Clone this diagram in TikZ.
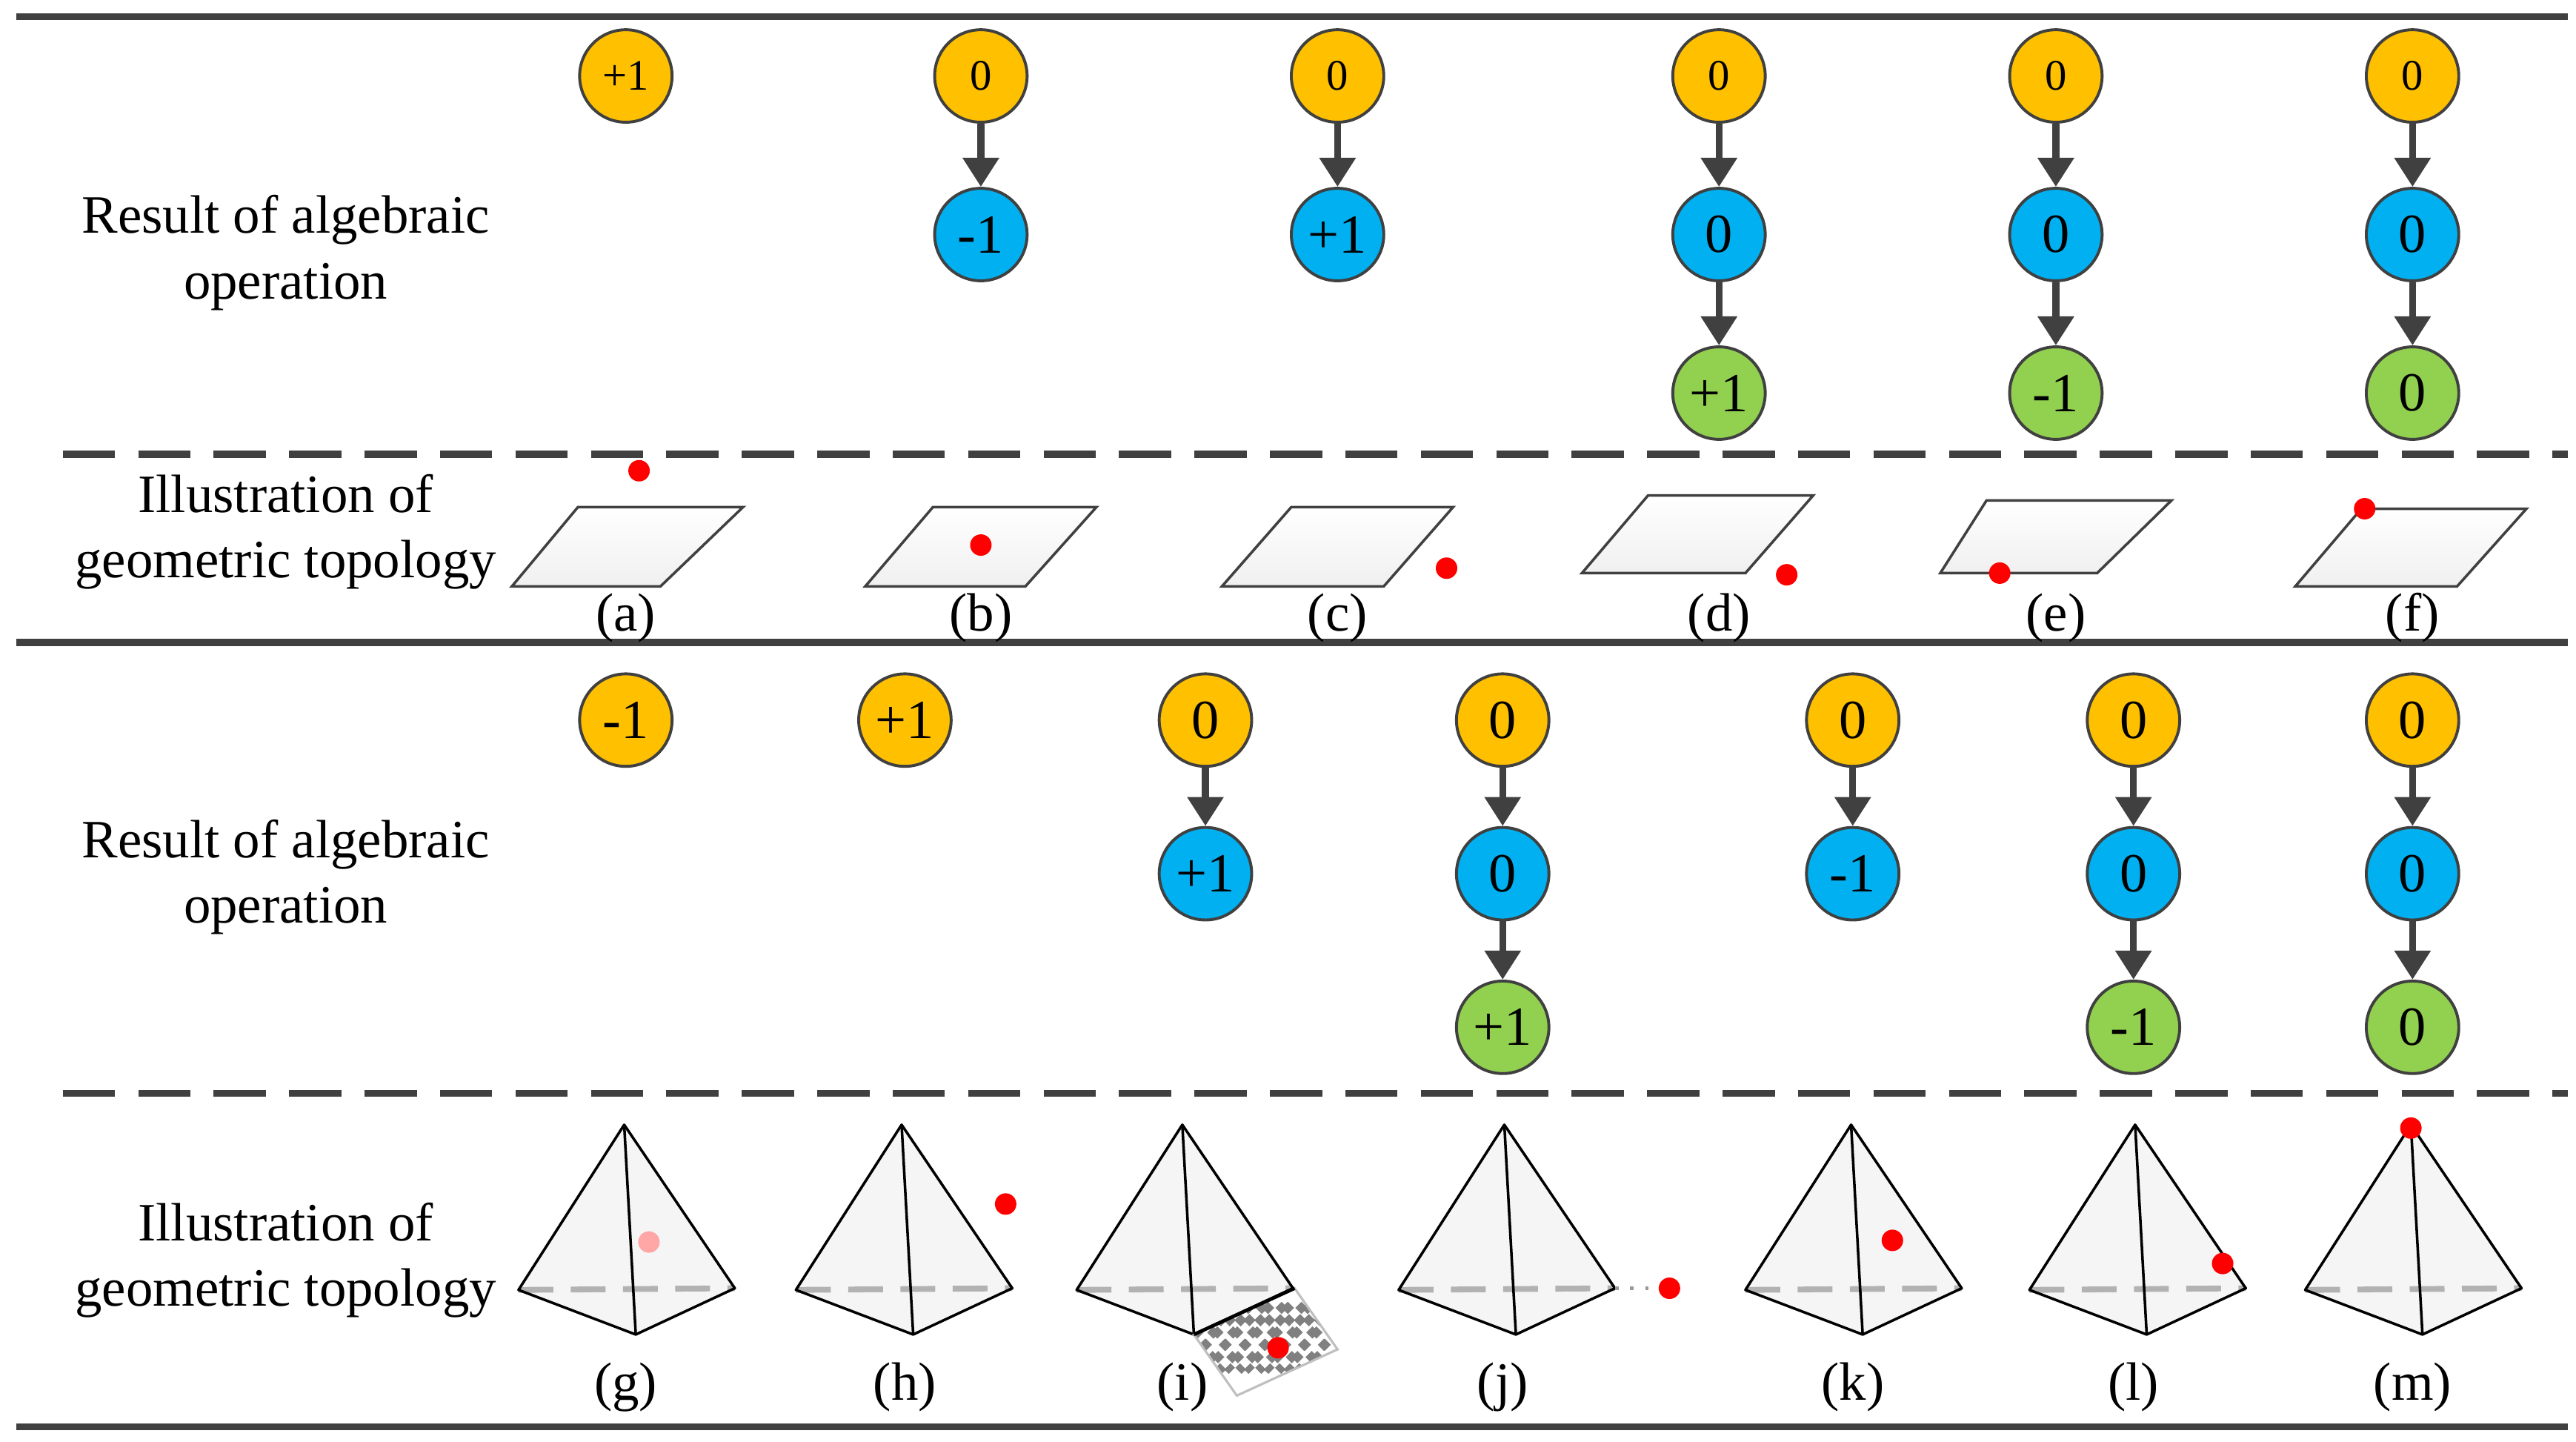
\documentclass[tikz,border=0pt]{standalone}
\usepackage{fontspec}
\setmainfont{Liberation Serif}
\usetikzlibrary{arrows.meta}
\definecolor{cy}{HTML}{FFC000}
\definecolor{cb}{HTML}{00B0F0}
\definecolor{cg}{HTML}{92D050}
\definecolor{dk}{HTML}{404040}
\tikzset{
 nd/.style={circle,draw=dk,line width=0.5pt,minimum size=0.56cm,inner sep=0pt,font=\fontsize{9.5pt}{10pt}\selectfont},
 ny/.style={nd,fill=cy}, nb/.style={nd,fill=cb}, ng/.style={nd,fill=cg},
 sm/.style={font=\fontsize{7.5pt}{8pt}\selectfont},
 ar/.style={draw=dk,line width=1.2pt,-{Triangle[length=5pt,width=6pt]}},
 rule/.style={draw=dk,line width=1.2pt},
 dsh/.style={draw=dk,line width=1.2pt,dash pattern=on 9pt off 4pt},
 lab/.style={align=center,font=\fontsize{9.3pt}{11.3pt}\selectfont},
 cp/.style={font=\fontsize{9.3pt}{10pt}\selectfont},
 pl/.style={draw=dk,line width=0.45pt,top color=white,bottom color=black!6},
 dot/.style={circle,fill=red,inner sep=0pt,minimum size=0.13cm},
 pyr/.style={draw=black,line width=0.45pt},
}
\begin{document}
\begin{tikzpicture}[x=0.1mm,y=-0.1mm]
\useasboundingbox (0,0) rectangle (1560,873);
\draw[rule] (10,10) -- (1555,10);
\draw[rule] (10,389) -- (1555,389);
\draw[rule] (10,864) -- (1555,864);
\draw[dsh] (38,275) -- (1555,275);
\draw[dsh] (38,662) -- (1555,662);
\node[lab] (t1) at (173,153) {Result of algebraic\\operation};
\node[lab] (t2) at (173,322) {Illustration of\\geometric topology};
\node[lab] (t3) at (173,531) {Result of algebraic\\operation};
\node[lab] (t4) at (173,763) {Illustration of\\geometric topology};
% top section
\node[ny,sm] (a1) at (379,46) {+1};
\node[ny,sm] (b1) at (594,46) {0}; \node[nb] (b2) at (594,142) {-1};
\node[ny,sm] (c1) at (810,46) {0}; \node[nb] (c2) at (810,142) {+1};
\node[ny,sm] (d1) at (1041,46) {0}; \node[nb] (d2) at (1041,142) {0}; \node[ng] (d3) at (1041,238) {+1};
\node[ny,sm] (e1) at (1245,46) {0}; \node[nb] (e2) at (1245,142) {0}; \node[ng] (e3) at (1245,238) {-1};
\node[ny,sm] (f1) at (1461,46) {0}; \node[nb] (f2) at (1461,142) {0}; \node[ng] (f3) at (1461,238) {0};
\foreach \u/\v in {b1/b2,c1/c2,d1/d2,d2/d3,e1/e2,e2/e3,f1/f2,f2/f3} \draw[ar] (\u) -- (\v);
% parallelograms
\draw[pl] (350,307) -- (450,307) -- (400,355) -- (310,355) -- cycle;
\draw[pl] (565,307) -- (664,307) -- (621,355) -- (524,355) -- cycle;
\draw[pl] (782,307) -- (880,307) -- (838,355) -- (740,355) -- cycle;
\draw[pl] (998,300) -- (1098,300) -- (1057,347) -- (958,347) -- cycle;
\draw[pl] (1203,303) -- (1315,303) -- (1270,347) -- (1175,347) -- cycle;
\draw[pl] (1430,308) -- (1530,308) -- (1488,355) -- (1390,355) -- cycle;
\node[dot] (pa) at (387,285) {}; \node[dot] (pb) at (594,330) {};
\node[dot] (pc) at (876,344) {}; \node[dot] (pd) at (1082,348) {};
\node[dot] (pe) at (1211,347) {}; \node[dot] (pf) at (1432,308) {};
\foreach \x/\l in {379/a,594/b,810/c,1041/d,1245/e,1461/f} \node[cp] (l\l) at (\x,374) {(\l)};
% bottom section
\node[ny] (g1) at (379,436) {-1};
\node[ny] (h1) at (548,436) {+1};
\node[ny] (i1) at (730,436) {0}; \node[nb] (i2) at (730,529) {+1};
\node[ny] (j1) at (910,436) {0}; \node[nb] (j2) at (910,529) {0}; \node[ng] (j3) at (910,622) {+1};
\node[ny] (k1) at (1122,436) {0}; \node[nb] (k2) at (1122,529) {-1};
\node[ny] (m1) at (1292,436) {0}; \node[nb] (m2) at (1292,529) {0}; \node[ng] (m3) at (1292,622) {-1};
\node[ny] (n1) at (1461,436) {0}; \node[nb] (n2) at (1461,529) {0}; \node[ng] (n3) at (1461,622) {0};
\foreach \u/\v in {i1/i2,j1/j2,j2/j3,k1/k2,m1/m2,m2/m3,n1/n2,n2/n3} \draw[ar] (\u) -- (\v);
% pyramids
\foreach \x in {378,546,716,911,1121,1293,1460}{
 \begin{scope}[xshift={(\x-378)*0.1mm}]
 \fill[black!4] (378,681) -- (314,781) -- (385,808) -- (445,780) -- cycle;
 \draw[black!30,line width=1pt,dash pattern=on 6pt off 3pt] (314,781) -- (445,780);
 \draw[pyr,line join=round] (378,681) -- (314,781) -- (385,808) -- (445,780) -- cycle;
 \draw[pyr] (378,681) -- (385,808);
 \end{scope}}
% (i) patterned face
\begin{scope}
\clip (723,808) -- (784,780) -- (810,817) -- (749,845) -- cycle;
\foreach \k in {-60,-48,...,60}{
 \draw[black!50,line width=1.5pt,dash pattern=on 1.5pt off 1.5pt] (766+\k,790) -- ++(40,40);
 \draw[black!50,line width=1.5pt,dash pattern=on 1.5pt off 1.5pt] (766+\k,790) -- ++(-40,40);}
\end{scope}
\draw[black!25,line width=0.4pt] (723,808) -- (784,780) -- (810,817) -- (749,845) -- cycle;
\draw[black,line width=0.6pt] (723,808) -- (784,780);
\node[circle,fill=red!35,inner sep=0pt,minimum size=0.13cm] (pg) at (393,752) {};
\node[dot] (ph) at (609,729) {};
\node[dot] (pi) at (774,816) {};
\coordinate (jr) at (978,780);
\node[dot] (pj) at (1011,780) {};
\draw[black!40,line width=0.6pt,dotted] (jr) -- (pj);
\node[dot] (pk) at (1146,751) {};
\node[dot] (pl) at (1346,765) {};
\node[dot] (pm) at (1460,683) {};
\foreach \x/\l in {379/g,548/h,716/i,910/j,1122/k,1292/l,1461/m} \node[cp] (l\l) at (\x,840) {(\l)};
\end{tikzpicture}
\end{document}
